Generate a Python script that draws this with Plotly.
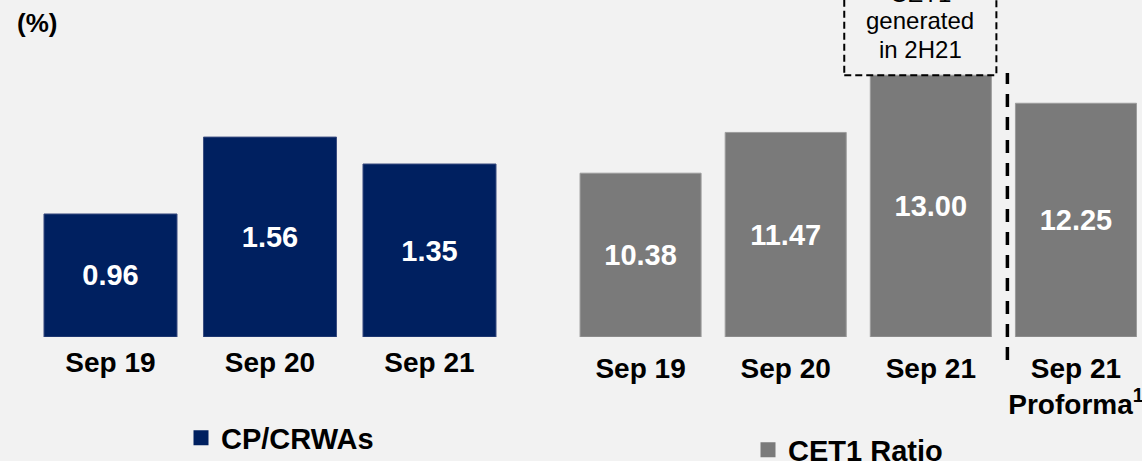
import plotly.graph_objects as go

# ---- data ----
left_categories = ["Sep 19", "Sep 20", "Sep 21"]
left_values = [0.96, 1.56, 1.35]
left_name = "CP/CRWAs"

right_categories = ["Sep 19", "Sep 20", "Sep 21", "Sep 21<br>Proforma<sup>1</sup>"]
right_values = [10.38, 11.47, 13.00, 12.25]
right_name = "CET1 Ratio"
right_axis_floor = 6.0

unit_label = "(%)"
note_lines = ["CET1", "generated", "in 2H21"]

# ---- styling ----
W, H = 1142, 461
BG = "#f2f2f2"
NAVY = "#002060"
GREY = "#7a7a7a"
FONT = "Liberation Sans, Arial, sans-serif"

def px_x(x):
    return x / W

def px_y(y):
    return (H - y) / H

fig = go.Figure()

fig.add_trace(go.Bar(
    x=left_categories, y=left_values, xaxis="x", yaxis="y",
    marker=dict(color=NAVY, line=dict(color="#3b4d80", width=1)),
    text=[f"{v:.2f}" for v in left_values],
    textposition="inside", insidetextanchor="middle", textangle=0,
    textfont=dict(family=FONT, size=29, color="white", weight="bold"),
    showlegend=False, hoverinfo="skip",
))
fig.add_trace(go.Bar(
    x=right_categories, y=[v - right_axis_floor for v in right_values],
    base=right_axis_floor, xaxis="x2", yaxis="y2",
    marker=dict(color=GREY, line=dict(color="#9c9c9c", width=1)),
    text=[f"{v:.2f}" for v in right_values],
    textposition="inside", insidetextanchor="middle", textangle=0,
    textfont=dict(family=FONT, size=29, color="white", weight="bold"),
    showlegend=False, hoverinfo="skip",
))

# legend entries (square swatches)
fig.add_trace(go.Scatter(
    x=[None], y=[None], xaxis="x", yaxis="y", mode="markers", name=left_name,
    marker=dict(symbol="square", size=15, color=NAVY), legend="legend",
))
fig.add_trace(go.Scatter(
    x=[None], y=[None], xaxis="x2", yaxis="y2", mode="markers", name=right_name,
    marker=dict(symbol="square", size=15, color=GREY), legend="legend2",
))

tickfont = dict(family=FONT, size=28, color="black", weight="bold")
ydom = [px_y(337), 1]

fig.update_layout(
    width=W, height=H,
    margin=dict(l=0, r=0, t=0, b=0, autoexpand=False),
    paper_bgcolor=BG, plot_bgcolor=BG,
    bargap=0.166,
    xaxis=dict(domain=[px_x(30.75), px_x(509.25)], range=[-0.5, 2.5],
               showgrid=False, zeroline=False, showline=False,
               ticks="outside", ticklen=0, tickcolor="rgba(0,0,0,0)",
               tickfont=tickfont, fixedrange=True),
    yaxis=dict(domain=ydom, range=[0, 2.6297], visible=False, fixedrange=True),
    xaxis2=dict(domain=[px_x(568.0), 1], range=[-0.5, 3.455],
                showgrid=False, zeroline=False, showline=False,
                ticks="outside", ticklen=6, tickcolor="rgba(0,0,0,0)",
                tickfont=tickfont, fixedrange=True, anchor="y2"),
    yaxis2=dict(domain=ydom, range=[right_axis_floor, 15.011], visible=False,
                fixedrange=True, anchor="x2"),
    legend=dict(x=px_x(181), xanchor="left", y=px_y(438), yanchor="middle",
                bgcolor="rgba(0,0,0,0)",
                font=dict(family=FONT, size=29, color="black", weight="bold")),
    legend2=dict(x=px_x(748), xanchor="left", y=px_y(450), yanchor="middle",
                 bgcolor="rgba(0,0,0,0)",
                 font=dict(family=FONT, size=29, color="black", weight="bold")),
)

# unit label
fig.add_annotation(text=unit_label, xref="paper", yref="paper",
                   x=px_x(15), y=px_y(23.5), xanchor="left", yanchor="middle",
                   showarrow=False,
                   font=dict(family=FONT, size=26, color="black", weight="bold"))

# dashed note box above Sep 21
fig.add_shape(type="rect", xref="x2", yref="y2",
              x0=2 - (931.5 - 845) / 145, x1=2 + (997 - 931.5) / 145,
              y0=right_values[2], y1=17,
              line=dict(color="black", width=2, dash="7px,4px"),
              fillcolor="rgba(0,0,0,0)")
note_x = 2 + (921 - 931.5) / 145
for line, baseline in zip(note_lines, [1.3, 29.3, 57.3]):
    fig.add_annotation(text=line, xref="x2", yref="paper",
                       x=note_x, y=px_y(baseline - 8.3), xanchor="center",
                       yanchor="middle", showarrow=False,
                       font=dict(family=FONT, size=24, color="black"))

# vertical dashed separator before proforma
fig.add_shape(type="line", xref="x2", yref="paper",
              x0=2 + (1008 - 931.5) / 145, x1=2 + (1008 - 931.5) / 145,
              y0=px_y(360), y1=px_y(73),
              line=dict(color="black", width=3.5, dash="13px,10px"))

fig.write_html(
    "out.html",
    config={"displayModeBar": False},
    post_script="document.body.style.margin='0';document.body.style.overflow='hidden';",
)
